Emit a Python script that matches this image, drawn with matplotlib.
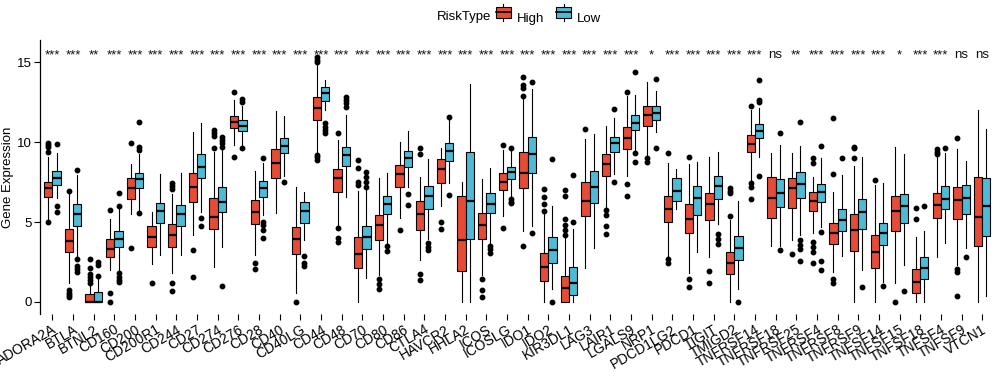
import numpy as np
import matplotlib
matplotlib.use("Agg")
import matplotlib.pyplot as plt
from matplotlib.patches import Rectangle, Patch
from matplotlib.lines import Line2D
from matplotlib.legend_handler import HandlerBase

plt.rcParams['font.family'] = ['Liberation Sans', 'DejaVu Sans']

genes = ["ADORA2A", "BTLA", "BTNL2", "CD160", "CD200", "CD200R1", "CD244", "CD27",
         "CD274", "CD276", "CD28", "CD40", "CD40LG", "CD44", "CD48", "CD70", "CD80",
         "CD86", "CTLA4", "HAVCR2", "HHLA2", "ICOS", "ICOSLG", "IDO1", "IDO2",
         "KIR3DL1", "LAG3", "LAIR1", "LGALS9", "NRP1", "PDCD1LG2", "PDCD1", "TIGIT",
         "TMIGD2", "TNFRSF14", "TNFRSF18", "TNFRSF25", "TNFRSF4", "TNFRSF8",
         "TNFRSF9", "TNFSF14", "TNFSF15", "TNFSF18", "TNFSF4", "TNFSF9", "VTCN1"]

signif = ["***", "***", "**", "***", "***", "***", "***", "***", "***", "***", "***",
          "***", "***", "***", "***", "***", "***", "***", "***", "***", "***", "***",
          "***", "***", "***", "***", "***", "***", "***", "*", "***", "***", "***",
          "***", "***", "ns", "**", "***", "***", "***", "***", "*", "***", "***",
          "ns", "ns"]

# High risk group: q1, median, q3, whisker low, whisker high, outliers
high_q1 = [6.58, 3.10, 0.0, 2.79, 6.46, 3.46, 3.46, 6.27, 4.54, 10.85, 4.85, 7.77, 2.98,
           11.38, 6.85, 2.15, 3.85, 7.17, 4.48, 7.42, 1.94, 3.92, 6.98, 7.10, 1.29, 0.0,
           5.375, 7.85, 9.54, 10.98, 5.02, 4.33, 5.10, 1.73, 9.35, 5.23, 5.85, 5.67,
           3.60, 3.21, 2.10, 4.46, 0.54, 5.23, 5.17, 3.48]
high_med = [7.15, 3.79, 0.02, 3.33, 7.15, 4.08, 4.17, 7.21, 5.33, 11.23, 5.60, 8.67, 3.94,
            12.15, 7.73, 2.98, 4.81, 8.00, 5.48, 8.29, 3.875, 4.83, 7.52, 8.04, 2.17, 0.90,
            6.33, 8.625, 10.27, 11.69, 5.81, 5.19, 6.125, 2.42, 9.90, 6.48, 7.15, 6.33,
            4.29, 4.50, 3.125, 5.69, 1.27, 6.04, 6.375, 5.33]
high_q3 = [7.52, 4.54, 0.48, 3.92, 7.73, 4.75, 4.85, 8.04, 6.48, 11.63, 6.38, 9.54, 4.67,
           12.79, 8.29, 4.08, 5.44, 8.54, 6.29, 8.92, 6.625, 5.54, 8.04, 9.375, 3.04, 1.60,
           7.48, 9.23, 10.92, 12.27, 6.625, 6.10, 6.79, 3.125, 10.42, 7.79, 7.77, 6.85,
           4.92, 5.48, 4.17, 6.625, 2.04, 6.79, 7.17, 7.79]
high_lo = [5.12, 1.17, 0.0, 2.0, 5.5, 2.4, 1.83, 4.19, 2.21, 9.81, 2.94, 5.54, 0.54,
           9.29, 4.8, 0.02, 1.69, 5.23, 2.63, 6.0, 0.0, 1.69, 5.4, 4.44, 0.02, 0.0,
           2.15, 5.96, 7.85, 9.19, 2.83, 1.83, 2.83, 0.02, 7.58, 3.5, 3.9, 4.3,
           1.9, 0.02, 0.02, 1.21, 0.02, 2.83, 2.31, 0.02]
high_hi = [9.04, 6.79, 1.1, 5.2, 8.6, 5.6, 6.75, 10.65, 9.4, 12.62, 8.19, 11.94, 7.21,
           14.85, 10.125, 6.94, 7.73, 9.98, 7.8, 9.6, 7.5, 7.67, 9.5, 12.69, 5.5, 3.98,
           10.17, 11.0, 12.85, 13.73, 8.67, 8.625, 9.04, 5.125, 12.0, 9.3, 9.3, 7.8,
           6.9, 8.5, 7.3, 9.67, 4.04, 9.125, 9.54, 12.0]
high_out = [[9.92, 9.81, 9.71, 9.4, 5.0], [6.96, 0.75, 0.58, 0.44, 0.33],
            [2.67, 2.1, 1.75, 1.58, 1.38, 1.2], [5.75, 0.58, 0.0], [9.96, 3.4], [1.17],
            [7.42, 7.25, 7.04, 1.17, 0.69], [3.25, 1.58], [10.75, 10.54, 10.38, 9.65],
            [13.15, 9.08], [2.46, 2.06], [], [0.0],
            [15.29, 15.13, 14.98, 9.19, 9.04, 8.875], [10.54, 4.6, 3.98, 3.77],
            [8.875, 8.35, 7.52, 7.31], [1.42, 1.1, 0.81], [4.5], [9.6, 9.23, 1.75, 1.38],
            [5.02, 4.56], [], [1.44, 0.75, 0.33], [9.81, 4.6],
            [14.08, 13.56, 13.35, 12.9, 3.52], [7.04, 6.58, 6.125, 5.71],
            [7.0, 6.65, 5.19, 4.81, 4.5, 4.19], [10.81], [5.75, 5.44, 4.75, 4.25],
            [13.1, 7.375, 6.625], [8.98, 8.77], [9.33, 2.67, 2.46], [9.08, 1.42, 0.96],
            [1.96, 1.17], [7.1, 6.96, 6.79, 5.4], [12.25, 7.46, 7.2, 6.46], [], [3.0],
            [9.02, 8.67, 3.77, 3.46, 3.15, 2.42], [11.48, 8.0, 1.42, 1.21],
            [9.71, 9.6, 9.02], [7.6], [0.0], [5.85, 5.19], [9.54, 9.4, 9.25],
            [10.23, 2.04, 1.9, 0.4], []]

# Low risk group
low_q1 = [7.33, 4.77, 0.0, 3.46, 7.10, 4.96, 4.77, 7.73, 5.65, 10.71, 6.54, 9.29, 4.92,
          12.54, 8.50, 3.29, 5.48, 8.42, 5.79, 8.81, 3.96, 5.54, 7.67, 8.08, 2.46, 0.44,
          6.17, 9.35, 10.73, 11.375, 6.33, 5.46, 6.46, 2.60, 10.23, 5.96, 6.52, 6.23,
          4.46, 4.54, 3.54, 4.92, 1.42, 5.79, 5.48, 4.15]
low_med = [7.75, 5.48, 0.02, 3.96, 7.67, 5.69, 5.48, 8.46, 6.27, 11.02, 7.10, 9.77, 5.71,
           13.04, 9.19, 4.08, 6.10, 9.02, 6.65, 9.44, 6.31, 6.15, 8.10, 9.25, 3.27, 1.21,
           7.21, 9.96, 11.21, 11.79, 6.96, 6.48, 7.27, 3.40, 10.69, 6.83, 7.35, 6.90,
           5.10, 5.625, 4.33, 6.02, 2.10, 6.44, 6.48, 6.0]
low_q3 = [8.17, 6.10, 0.60, 4.44, 8.04, 6.17, 6.04, 9.23, 7.17, 11.38, 7.56, 10.23, 6.23,
          13.42, 9.71, 4.75, 6.625, 9.42, 7.23, 9.92, 9.375, 6.79, 8.42, 10.33, 4.04, 2.17,
          8.17, 10.29, 11.67, 12.27, 7.77, 7.25, 7.90, 4.10, 11.125, 7.67, 8.10, 7.375,
          5.83, 6.44, 4.96, 6.73, 2.79, 7.25, 7.29, 7.73]
low_lo = [6.48, 2.83, 0.0, 1.92, 5.7, 2.94, 2.94, 5.65, 3.46, 9.8, 5.44, 7.875, 3.9,
          12.0, 6.58, 1.52, 3.71, 7.17, 3.96, 7.42, 0.02, 3.67, 6.58, 4.77, 0.81, 0.0,
          3.4, 8.0, 9.5, 10.6, 5.8, 3.1, 4.85, 0.81, 9.04, 3.52, 4.19, 4.71,
          2.9, 2.0, 1.25, 2.31, 0.02, 3.67, 3.4, 0.4]
low_hi = [9.29, 7.94, 1.44, 5.92, 9.25, 8.0, 8.04, 11.17, 9.5, 12.25, 8.67, 11.63, 6.9,
          13.9, 11.69, 7.0, 8.04, 10.69, 8.94, 11.375, 13.6, 8.35, 9.5, 13.29, 6.0, 4.54,
          10.5, 11.48, 12.94, 13.2, 8.3, 8.73, 9.35, 6.31, 12.1, 9.81, 9.75, 8.98,
          7.94, 9.04, 7.46, 9.25, 4.44, 9.3, 8.8, 10.8]
low_out = [[9.85, 6.0, 5.65], [8.25, 2.67, 2.25, 2.04, 1.9], [2.52, 2.31, 1.65],
           [6.02, 6.83, 1.79, 1.58, 1.38, 1.27], [11.23, 9.71, 9.5, 5.54], [], [],
           [5.27, 4.77], [10.29, 10.13, 9.92, 9.71, 1.02], [12.67, 12.52, 9.6],
           [8.98, 5.02, 4.81, 4.5, 3.98], [7.52], [2.87, 2.42, 2.25],
           [11.17, 10.96, 10.75, 10.58], [12.79, 12.625, 12.46, 12.17],
           [8.15, 7.79, 7.52, 7.21], [3.5, 3.19], [6.75, 6.06], [3.67, 3.46, 3.25],
           [11.54, 6.69], [], [3.5, 3.29, 3.04], [9.65, 6.42, 6.27, 6.17], [13.77, 4.29],
           [8.92, 0.0], [7.94, 5.02], [], [12.06, 7.52], [14.4, 9.29, 8.77], [13.94, 9.65],
           [], [], [4.23, 3.92, 3.6], [0.0], [13.875, 12.625, 12.52, 7.875], [10.54, 3.23],
           [11.27, 3.875, 3.56, 3.29, 2.58], [9.75, 4.35, 2.58, 2.0], [9.02], [0.96],
           [1.0], [0.71], [6.0], [9.6], [2.83], []]

col_high = "#E64B35"
col_low = "#4DBBD5"


def make_stats(q1, med, q3, lo, hi, out):
    return [dict(q1=a, med=b, q3=c, whislo=d, whishi=e, fliers=f)
            for a, b, c, d, e, f in zip(q1, med, q3, lo, hi, out)]


class BoxKey(HandlerBase):
    # boxplot-like legend key: whisker, box, median line
    def create_artists(self, legend, orig, xd, yd, w, h, fontsize, trans):
        cx = xd + w / 2
        wl = Line2D([cx, cx], [yd - 0.1 * h, yd + 1.1 * h], color="black", lw=0.8, transform=trans)
        box = Rectangle((xd, yd + 0.12 * h), w, 0.76 * h, facecolor=orig.get_facecolor(),
                        edgecolor="black", lw=0.8, transform=trans)
        md = Line2D([xd, xd + w], [yd + 0.5 * h, yd + 0.5 * h], color="black", lw=1.2, transform=trans)
        return [wl, box, md]


fig = plt.figure(figsize=(10, 3.84), dpi=100)
ax = fig.add_axes([0.04, 0.1823, 0.9546, 0.7135])

x = np.arange(len(genes))
common = dict(widths=0.4, patch_artist=True, showcaps=False,
              medianprops=dict(color="black", lw=1.6),
              whiskerprops=dict(color="black", lw=0.8),
              flierprops=dict(marker="o", markerfacecolor="black", markeredgecolor="black",
                              markersize=3.2, linestyle="none"))
ax.bxp(make_stats(high_q1, high_med, high_q3, high_lo, high_hi, high_out),
       positions=x - 0.2, boxprops=dict(facecolor=col_high, edgecolor="black", lw=0.8), **common)
ax.bxp(make_stats(low_q1, low_med, low_q3, low_lo, low_hi, low_out),
       positions=x + 0.2, boxprops=dict(facecolor=col_low, edgecolor="black", lw=0.8), **common)

for i, s in enumerate(signif):
    ax.text(i, 15.25, s, ha="center", va="baseline", fontsize=9.5, color="#111111")

ax.set_xlim(-0.6, len(genes) - 0.4)
ax.set_ylim(-0.75, 16.375)
ax.set_yticks([0, 5, 10, 15])
ax.set_xticks(x)
ax.set_xticklabels(genes, rotation=30, ha="right", rotation_mode="anchor", fontsize=10)
ax.tick_params(axis="y", labelsize=9.5, length=4, width=0.8, colors="black", pad=2)
ax.tick_params(axis="x", length=4, width=0.8, colors="black", pad=2)
ax.set_ylabel("Gene Expression", fontsize=9.5, labelpad=2)
for sp in ["top", "right", "bottom"]:
    ax.spines[sp].set_visible(False)
ax.spines["left"].set_linewidth(0.9)

fig.text(0.491, 1 - 17 / 384, "RiskType", ha="right", va="center", fontsize=9.5)
handles = [Patch(facecolor=col_high), Patch(facecolor=col_low)]
fig.legend(handles, ["High", "Low"], loc="center left", bbox_to_anchor=(0.493, 1 - 18 / 384),
           ncol=2, frameon=False, fontsize=9.5, handler_map={Patch: BoxKey()},
           handlelength=1.15, handleheight=1.3, handletextpad=0.45, columnspacing=0.9,
           borderaxespad=0, borderpad=0.2)

fig.savefig("out.png", dpi=100)
